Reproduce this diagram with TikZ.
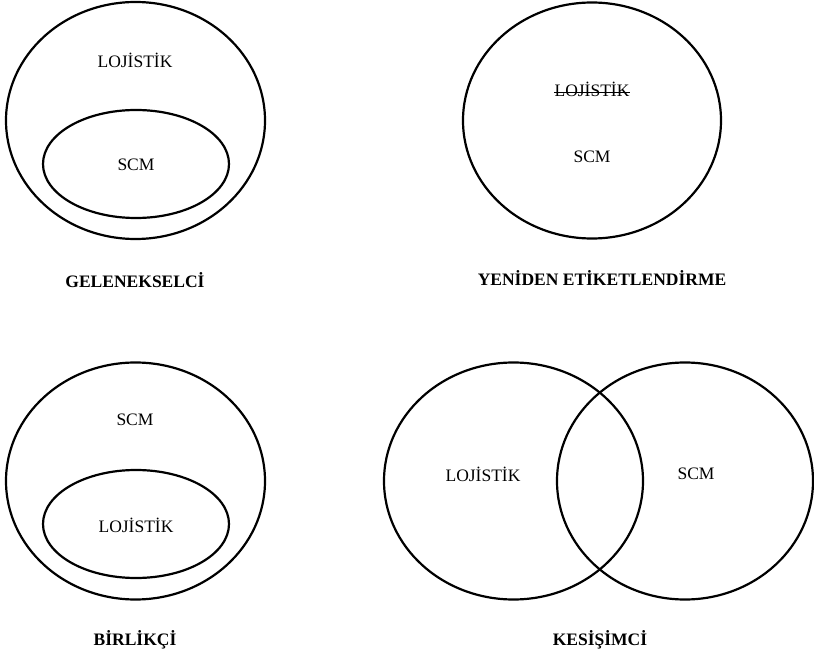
\documentclass[tikz,border=0pt]{standalone}
\usepackage{fontspec}
\setmainfont{Liberation Serif}
\usetikzlibrary{shapes.geometric}
\begin{document}
\begin{tikzpicture}[x=1pt,y=-1pt,
  ring/.style={draw,ellipse,line width=2.2pt,inner sep=0pt},
  word/.style={font=\fontsize{17.5}{20}\selectfont,inner sep=0pt},
  caption/.style={font=\fontsize{17.5}{20}\selectfont\bfseries,inner sep=0pt}]
\useasboundingbox (0,0) rectangle (814,660);

% Traditionalist view: SCM inside logistics
\node[ring,minimum width=259pt,minimum height=237pt] (tlOuter) at (135.5,120.5) {};
\node[ring,minimum width=186pt,minimum height=108pt] (tlInner) at (136,164) {};
\node[word] (tlLog) at (135,60) {LOJİSTİK};
\node[word] (tlScm) at (136,165) {SCM};
\node[caption] (tlCap) at (135,280) {GELENEKSELCİ};

% Relabelling view: logistics renamed to SCM
\node[ring,minimum width=258pt,minimum height=236pt] (trOuter) at (592,120.5) {};
\node[word,anchor=base] (trLog) at (592,97) {LOJİSTİK};
\draw[line width=0.9pt] ([yshift=5pt]trLog.base west) -- ([yshift=5pt]trLog.base east);
\node[word] (trScm) at (592,157) {SCM};
\node[caption] (trCap) at (602,278) {YENİDEN ETİKETLENDİRME};

% Unionist view: logistics inside SCM
\node[ring,minimum width=259pt,minimum height=237pt] (blOuter) at (135.5,481) {};
\node[ring,minimum width=186pt,minimum height=108pt] (blInner) at (136,524) {};
\node[word] (blScm) at (135,420) {SCM};
\node[word] (blLog) at (136,525) {LOJİSTİK};
\node[caption] (blCap) at (135,640) {BİRLİKÇİ};

% Intersectionist view: overlapping circles
\node[ring,minimum width=259pt,minimum height=237pt] (brLeft) at (513.5,481) {};
\node[ring,minimum width=256pt,minimum height=237pt] (brRight) at (685,481) {};
\node[word] (brLog) at (483,474) {LOJİSTİK};
\node[word] (brScm) at (696,474) {SCM};
\node[caption] (brCap) at (600,640) {KESİŞİMCİ};
\end{tikzpicture}
\end{document}
